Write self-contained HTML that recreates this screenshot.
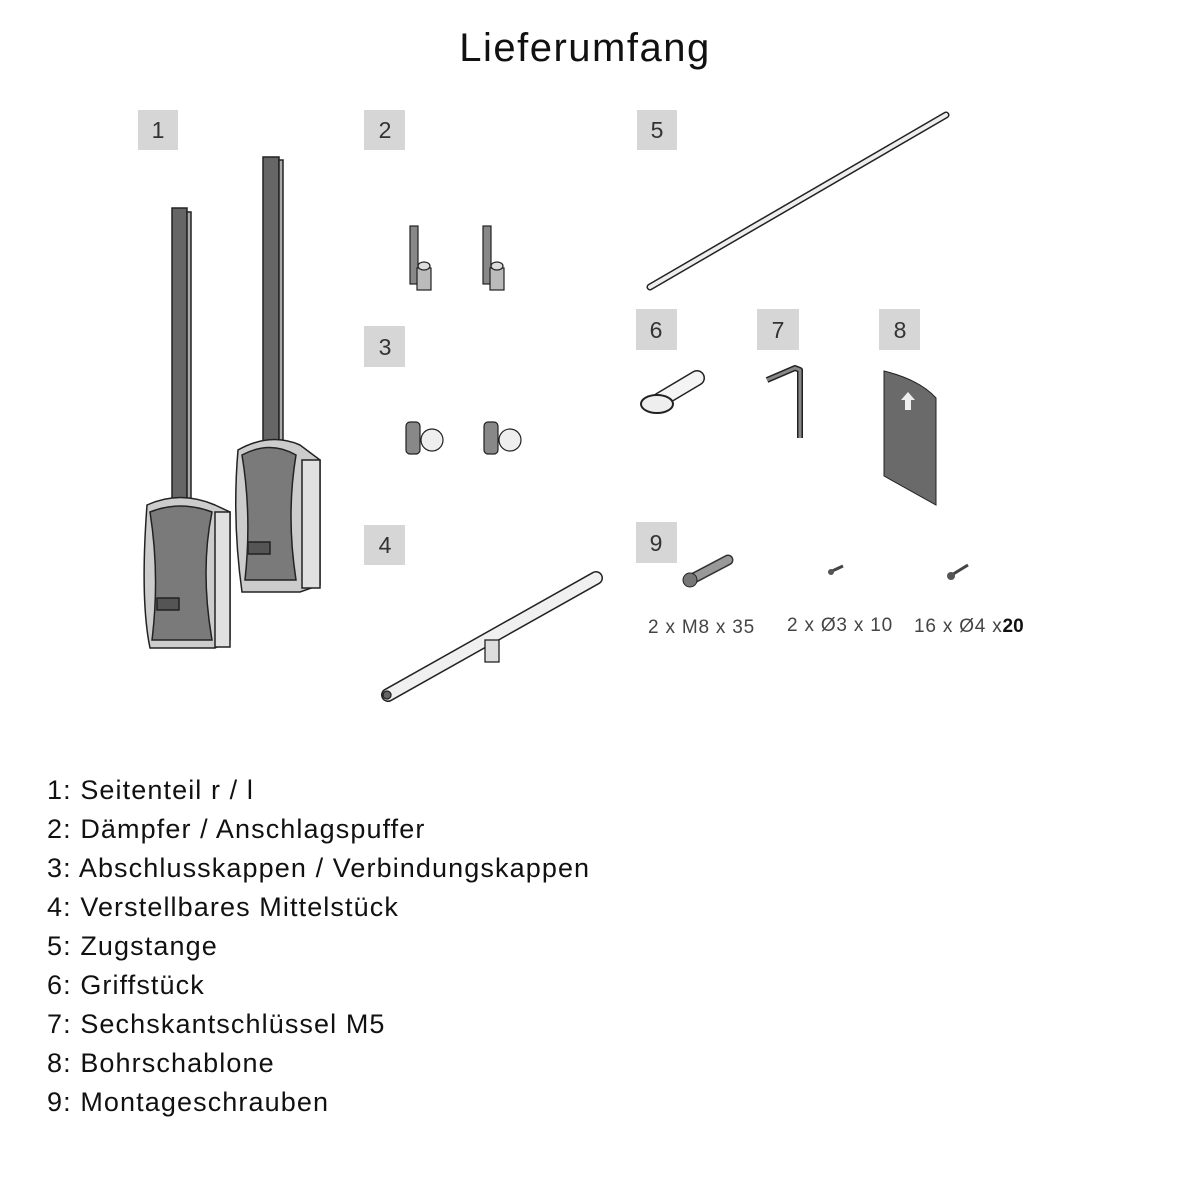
<!DOCTYPE html>
<html><head><meta charset="utf-8"><style>
body{margin:0;background:#fff;width:1200px;height:1200px;overflow:hidden;font-family:"Liberation Sans",sans-serif}
.t{position:absolute;left:47px;font-size:27px;letter-spacing:1.1px;color:#111}
</style></head><body>
<svg width="1200" height="1200" style="position:absolute;left:0;top:0" font-family="Liberation Sans, sans-serif">
<text x="585" y="61" font-size="40" letter-spacing="1.5" text-anchor="middle" fill="#111">Lieferumfang</text>
<g fill="#d6d6d6">
<rect x="138" y="110" width="40" height="40"/><rect x="364" y="110" width="41" height="40"/>
<rect x="637" y="110" width="40" height="40"/><rect x="364" y="326" width="41" height="41"/>
<rect x="364" y="525" width="41" height="40"/><rect x="636" y="309" width="41" height="41"/>
<rect x="757" y="309" width="42" height="41"/><rect x="879" y="309" width="41" height="41"/>
<rect x="636" y="522" width="41" height="41"/></g>
<g font-size="23" fill="#333" text-anchor="middle">
<text x="158" y="138">1</text><text x="385" y="138">2</text><text x="657" y="138">5</text>
<text x="385" y="355">3</text><text x="385" y="553">4</text><text x="656" y="338">6</text>
<text x="778" y="338">7</text><text x="900" y="338">8</text><text x="656" y="551">9</text></g>
<!-- part 1 -->
<g stroke="#222" stroke-width="1.5">
<rect x="172" y="208" width="15" height="295" fill="#666"/><rect x="187" y="212" width="4" height="290" fill="#aaa"/>
<path d="M147 505 Q180 490 215 505 L230 512 L230 640 L215 648 L150 648 Q140 600 147 505Z" fill="#ccc"/>
<path d="M150 512 Q180 500 212 512 Q200 570 212 640 L152 640 Q160 575 150 512Z" fill="#7a7a7a"/>
<rect x="157" y="598" width="22" height="12" fill="#555"/>
<rect x="215" y="512" width="15" height="135" fill="#e0e0e0"/>
<rect x="263" y="157" width="16" height="295" fill="#666"/><rect x="279" y="160" width="4" height="290" fill="#aaa"/>
<path d="M238 450 Q270 432 300 445 L320 460 L320 585 L300 592 L242 592 Q232 520 238 450Z" fill="#ccc"/>
<path d="M242 455 Q270 440 296 455 Q286 515 296 580 L245 580 Q252 515 242 455Z" fill="#7a7a7a"/>
<rect x="248" y="542" width="22" height="12" fill="#555"/>
<rect x="302" y="460" width="18" height="128" fill="#e0e0e0"/>
</g>
<!-- part 2 -->
<g stroke="#222" stroke-width="1.2" fill="#888">
<rect x="410" y="226" width="8" height="58"/><rect x="417" y="268" width="14" height="22" fill="#bbb"/><ellipse cx="424" cy="266" rx="6" ry="4" fill="#ddd"/>
<rect x="483" y="226" width="8" height="58"/><rect x="490" y="268" width="14" height="22" fill="#bbb"/><ellipse cx="497" cy="266" rx="6" ry="4" fill="#ddd"/>
</g>
<!-- part 3 -->
<g stroke="#222" stroke-width="1.2">
<rect x="406" y="422" width="14" height="32" rx="4" fill="#888"/><circle cx="432" cy="440" r="11" fill="#eee"/>
<rect x="484" y="422" width="14" height="32" rx="4" fill="#888"/><circle cx="510" cy="440" r="11" fill="#eee"/>
</g>
<!-- part 4 -->
<g stroke="#222" stroke-width="1.3">
<line x1="388" y1="695" x2="596" y2="578" stroke="#222" stroke-width="14" stroke-linecap="round"/>
<line x1="388" y1="695" x2="596" y2="578" stroke="#f0f0f0" stroke-width="11" stroke-linecap="round"/>
<rect x="485" y="640" width="14" height="22" fill="#ddd"/>
<circle cx="387" cy="695" r="4" fill="#666"/>
</g>
<!-- part 5 -->
<line x1="650" y1="287" x2="946" y2="115" stroke="#222" stroke-width="7" stroke-linecap="round"/>
<line x1="650" y1="287" x2="946" y2="115" stroke="#eee" stroke-width="4" stroke-linecap="round"/>
<!-- part 6 -->
<g stroke="#222" stroke-width="1.5">
<line x1="660" y1="400" x2="697" y2="378" stroke="#222" stroke-width="16" stroke-linecap="round"/>
<line x1="660" y1="400" x2="697" y2="378" stroke="#f4f4f4" stroke-width="13" stroke-linecap="round"/>
<ellipse cx="657" cy="404" rx="16" ry="9" fill="#eee" stroke-width="2"/>
</g>
<!-- part 7 -->
<path d="M767 380 L795 368 L800 370 L800 438" fill="none" stroke="#222" stroke-width="6" stroke-linejoin="round"/>
<path d="M767 380 L795 368 L800 370 L800 438" fill="none" stroke="#888" stroke-width="3" stroke-linejoin="round"/>
<!-- part 8 -->
<path d="M884 371 Q920 380 936 398 L936 505 L884 476Z" fill="#6a6a6a" stroke="#222"/>
<path d="M908 392 L915 400 L911 400 L911 410 L905 410 L905 400 L901 400Z" fill="#eee"/>
<!-- part 9 -->
<line x1="690" y1="580" x2="728" y2="560" stroke="#333" stroke-width="11" stroke-linecap="round"/>
<line x1="690" y1="580" x2="728" y2="560" stroke="#999" stroke-width="8" stroke-linecap="round"/>
<circle cx="690" cy="580" r="7" fill="#777" stroke="#222"/>
<line x1="830" y1="572" x2="843" y2="566" stroke="#444" stroke-width="3"/><circle cx="831" cy="572" r="3" fill="#555"/>
<line x1="950" y1="576" x2="968" y2="565" stroke="#444" stroke-width="3"/><circle cx="951" cy="576" r="4" fill="#555"/>
<g font-size="19" fill="#444" letter-spacing="0.8">
<text x="648" y="633">2 x M8 x 35</text><text x="787" y="631">2 x Ø3 x 10</text>
<text x="914" y="632">16 x Ø4 x<tspan fill="#111" font-weight="bold" letter-spacing="0">20</tspan></text></g>
</svg>
<div class="t" style="top:775px">1: Seitenteil r / l</div>
<div class="t" style="top:814px">2: Dämpfer / Anschlagspuffer</div>
<div class="t" style="top:853px">3: Abschlusskappen / Verbindungskappen</div>
<div class="t" style="top:892px">4: Verstellbares Mittelstück</div>
<div class="t" style="top:931px">5: Zugstange</div>
<div class="t" style="top:970px">6: Griffstück</div>
<div class="t" style="top:1009px">7: Sechskantschlüssel M5</div>
<div class="t" style="top:1048px">8: Bohrschablone</div>
<div class="t" style="top:1087px">9: Montageschrauben</div>
</body></html>
